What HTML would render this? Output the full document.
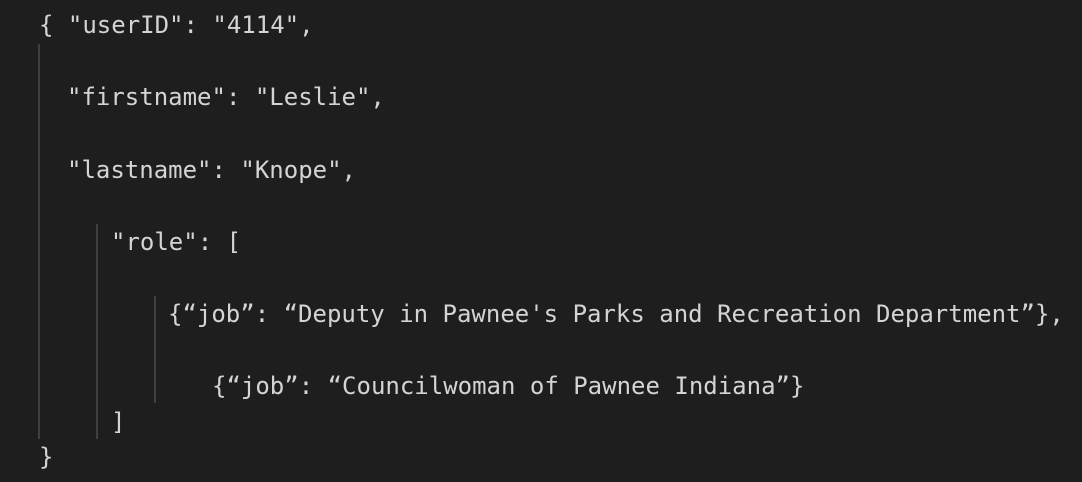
<!DOCTYPE html>
<html><head><style>
html,body{margin:0;padding:0;}
body{width:1082px;height:482px;background:#1e1e1e;position:relative;overflow:hidden;}
.t{position:absolute;font-family:"DejaVu Sans Mono","Liberation Mono",monospace;font-size:24px;line-height:30px;color:#d4d4d4;white-space:pre;}
.g{position:absolute;width:2px;background:#404040;}
</style></head><body>
<div class="g" style="left:38px;top:44px;height:395px"></div>
<div class="g" style="left:96px;top:224px;height:215px"></div>
<div class="g" style="left:154px;top:296px;height:107px"></div>
<div class="t" style="left:39px;top:10px">{ "userID": "4114",</div>
<div class="t" style="left:67px;top:82px">"firstname": "Leslie",</div>
<div class="t" style="left:67px;top:155px">"lastname": "Knope",</div>
<div class="t" style="left:111px;top:227px">"role": [</div>
<div class="t" style="left:168px;top:299px">{“job”: “Deputy in Pawnee's Parks and Recreation Department”},</div>
<div class="t" style="left:212px;top:371px">{“job”: “Councilwoman of Pawnee Indiana”}</div>
<div class="t" style="left:111px;top:407px">]</div>
<div class="t" style="left:39px;top:442px">}</div>
</body></html>
